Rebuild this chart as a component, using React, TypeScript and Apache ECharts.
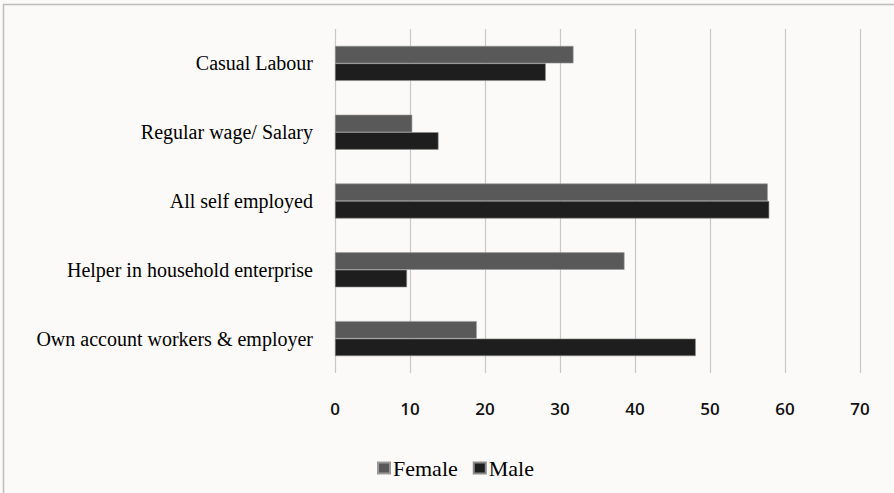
import React, { useEffect, useRef } from "react";
import * as echarts from "echarts";

const categories = [
  "Casual Labour",
  "Regular wage/ Salary",
  "All self employed",
  "Helper in household enterprise",
  "Own account workers & employer",
];
const femaleValues = [31.8, 10.3, 57.7, 38.6, 18.9];
const maleValues = [28.1, 13.8, 57.9, 9.6, 48.1];
const seriesNames = ["Female", "Male"];

export default function App() {
  const ref = useRef<HTMLDivElement>(null);
  useEffect(() => {
    if (!ref.current) return;
    const chart = echarts.init(ref.current, undefined, { renderer: "svg" });
    chart.setOption({
      animation: false,
      backgroundColor: "#fbfaf8",
      graphic: [
        {
          type: "rect",
          shape: { x: 3.5, y: 4.5, width: 1000, height: 1000 },
          style: { fill: "none", stroke: "#bdbdbd", lineWidth: 1.5 },
          silent: true,
        },
      ],
      grid: { left: 335, right: 34, top: 29, bottom: 120, containLabel: false },
      legend: {
        left: 372,
        top: 452,
        itemWidth: 12,
        itemHeight: 11,
        itemGap: 15,
        icon: "rect",
        textStyle: {
          fontFamily: "Liberation Serif",
          fontSize: 22,
          color: "#000",
          padding: [0, 0, 0, -2],
        },
        data: seriesNames,
      },
      xAxis: {
        type: "value",
        min: 0,
        max: 70,
        interval: 10,
        axisLine: { show: false },
        axisTick: { show: false },
        splitLine: { lineStyle: { color: "#c8c8c8", width: 1.2 } },
        axisLabel: {
          margin: 27,
          fontFamily: "Open Sans",
          fontSize: 17,
          fontWeight: 600,
          color: "#111",
        },
      },
      yAxis: {
        type: "category",
        inverse: true,
        data: categories,
        axisLine: { show: false },
        axisTick: { show: false },
        axisLabel: {
          margin: 22,
          fontFamily: "Liberation Serif",
          fontSize: 20,
          color: "#000",
        },
      },
      series: [
        {
          name: seriesNames[0],
          type: "bar",
          data: femaleValues,
          barWidth: 17.5,
          barGap: "0%",
          itemStyle: { color: "#595959", borderColor: "#9a9a9a", borderWidth: 0.6 },
        },
        {
          name: seriesNames[1],
          type: "bar",
          data: maleValues,
          barWidth: 17.5,
          barGap: "0%",
          itemStyle: { color: "#1e1e1e", borderColor: "#8a8a8a", borderWidth: 0.6 },
        },
      ],
    });
    return () => chart.dispose();
  }, []);
  return (
    <div
      ref={ref}
      style={{ position: "absolute", left: 0, top: 0, width: 894, height: 493 }}
    />
  );
}
